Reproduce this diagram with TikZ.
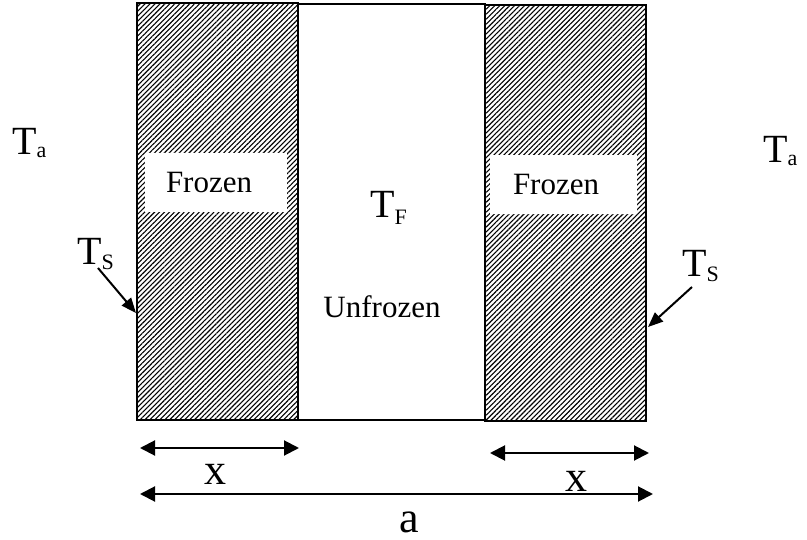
\documentclass[tikz,border=0pt]{standalone}
\usepackage{fontspec}
\setmainfont{Liberation Serif}
\usetikzlibrary{
    arrows.meta,
    patterns.meta,
    positioning
}
\newcommand{\Tsub}[2]{T\raisebox{#1}{\fontsize{22}{22}\selectfont #2}}
\tikzset{
    wall/.style={
        draw=black,
        line width=1.8pt,
        pattern={Lines[angle=45, distance=3.5pt, line width=1.1pt]},
        inner sep=0pt
    },
    core/.style={
        draw=black,
        line width=1.5pt,
        fill=white,
        inner sep=0pt
    },
    patch/.style={
        fill=white,
        inner ysep=0pt,
        align=left,
        minimum height=59pt,
        font=\fontsize{31}{31}\selectfont
    },
    temp/.style={
        font=\fontsize{40}{40}\selectfont,
        inner sep=0pt,
        anchor=base west
    },
    zone/.style={
        font=\fontsize{31}{31}\selectfont,
        inner sep=0pt,
        anchor=base
    },
    dimlabel/.style={
        font=\fontsize{44}{44}\selectfont,
        inner sep=0pt,
        anchor=base
    },
    dim/.style={
        {Triangle[length=15pt, width=15pt]}-{Triangle[length=15pt, width=15pt]},
        line width=2pt
    },
    pointer/.style={
        -{Triangle[length=15pt, width=12pt]},
        line width=2pt
    }
}

\begin{document}
\begin{tikzpicture}[x=1pt, y=-1pt]
\useasboundingbox (0,0) rectangle (807,540);

% slab: unfrozen core between two frozen walls
\node[core, minimum width=187pt, minimum height=416pt] (core) at (391.5,212) {};
\node[wall, minimum width=161pt, minimum height=417pt] (lwall) at (217.5,211.5) {};
\node[wall, minimum width=161pt, minimum height=416pt] (rwall) at (565.5,213) {};

\node[patch, inner xsep=21pt, text width=100pt] (lfrozen) at (216,182.5) {Frozen};
\node[patch, inner xsep=23pt, text width=101pt] (rfrozen) at (563.5,185) {Frozen};

\node[temp] (tf) at (370,218) {\Tsub{-7pt}{F}};
\node[zone] (unfrozen) at (382,318) {Unfrozen};

% ambient and surface temperatures
\node[temp] (lta) at (12,155) {\Tsub{-3pt}{a}};
\node[temp] (rta) at (763,163) {\Tsub{-3pt}{a}};
\node[temp] (lts) at (77,265) {\Tsub{-5pt}{S}};
\node[temp] (rts) at (682,277) {\Tsub{-5pt}{S}};

\coordinate (lts tail) at (98,268);
\coordinate (lts tip) at (136,313);
\coordinate (rts tail) at (692,287);
\coordinate (rts tip) at (648,327);
\draw[pointer] (lts tail) -- (lts tip);
\draw[pointer] (rts tail) -- (rts tip);

% dimensions
\coordinate (lx start) at (140,448);
\coordinate (lx end) at (299,448);
\coordinate (rx start) at (490,453);
\coordinate (rx end) at (649,453);
\coordinate (a start) at (140,494);
\coordinate (a end) at (653,494);
\draw[dim] (lx start) -- (lx end);
\draw[dim] (rx start) -- (rx end);
\draw[dim] (a start) -- (a end);

\node[dimlabel] (lx) at (215.5,484) {x};
\node[dimlabel] (rx) at (576,491) {x};
\node[dimlabel] (alen) at (409,532) {a};

\end{tikzpicture}
\end{document}
